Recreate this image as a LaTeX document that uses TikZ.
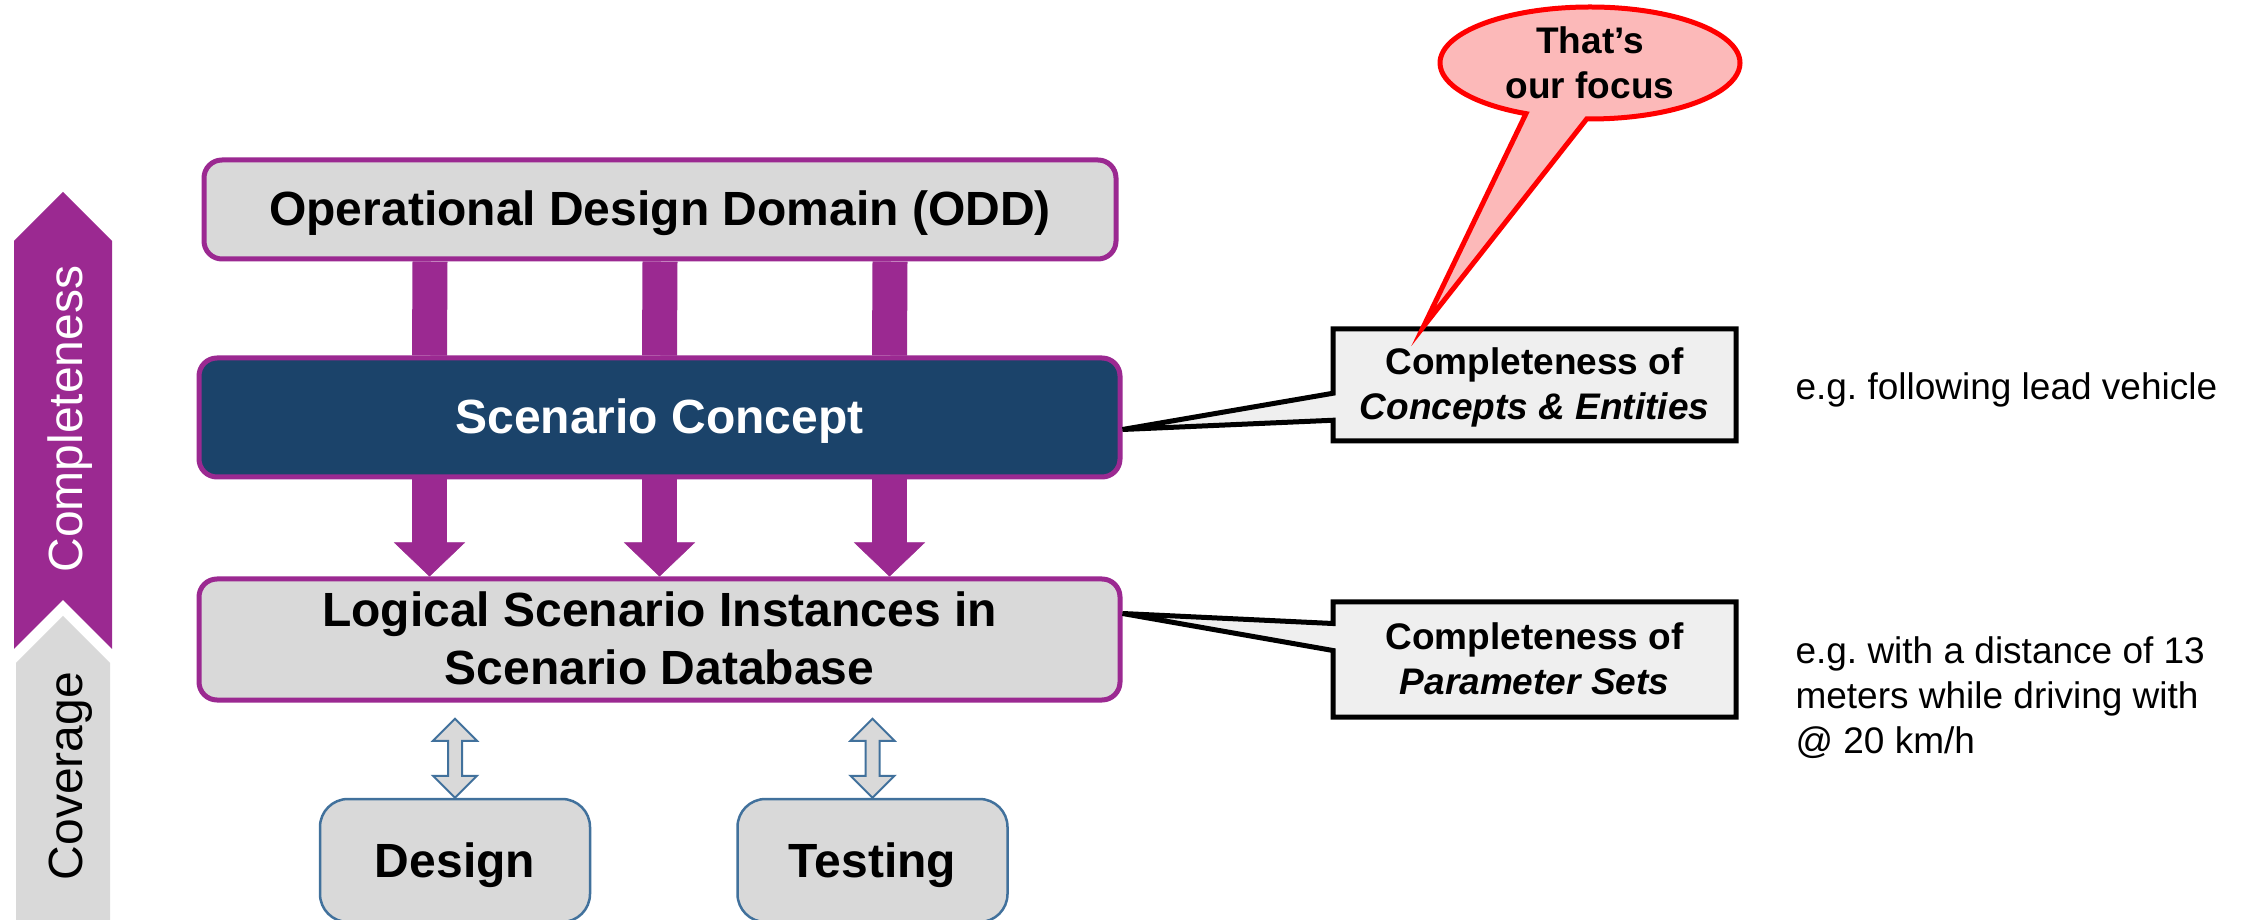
\documentclass[tikz,border=0pt]{standalone}
\usepackage{fontspec}
\setmainfont{Liberation Sans}
\usepackage{tikz}
\usetikzlibrary{positioning,shapes.callouts,arrows.meta}
\definecolor{oddpurple}{RGB}{155,41,145}
\definecolor{conceptblue}{RGB}{27,67,106}
\definecolor{boxgray}{RGB}{217,217,217}
\definecolor{notegray}{RGB}{239,239,239}
\definecolor{focuspink}{RGB}{252,185,185}
\definecolor{toolblue}{RGB}{65,113,156}
\frenchspacing
\tikzset{
    purple-box/.style = {draw=oddpurple, fill=boxgray, line width=5pt, rectangle, rounded corners=18pt, inner sep=4pt, text height=43pt, text depth=10pt, align=center, font=\fontsize{48}{58}\selectfont\bfseries},
    concept-box/.style = {purple-box, fill=conceptblue, text=white},
    tool-box/.style = {draw=toolblue, fill=boxgray, line width=2.5pt, rectangle, rounded corners=28pt, minimum width=270pt, minimum height=123pt, text height=43pt, text depth=10pt, font=\fontsize{48}{58}\selectfont\bfseries},
    flow-bar/.style = {draw=oddpurple, line width=35pt},
    flow-arrow/.style = {flow-bar, -{Triangle[width=71pt, length=34pt, line width=0.5pt]}},
    dbl-arrow/.style = {draw=toolblue, fill=boxgray, line width=2pt, line join=miter},
    note-callout/.style = {rectangle callout, draw=black, fill=notegray, line width=5pt, minimum width=403pt, inner sep=0pt, text height=78pt, text depth=8pt, callout pointer width=27pt, align=center, font=\fontsize{37}{45}\selectfont\bfseries},
    focus-bubble/.style = {ellipse callout, draw=red, fill=focuspink, line width=5pt, minimum width=300pt, minimum height=112pt, inner sep=0pt, callout pointer arc=24, align=center, font=\fontsize{37}{45}\selectfont\bfseries},
    side-label/.style = {rotate=90, anchor=base, font=\fontsize{48}{58}\selectfont},
    example-text/.style = {anchor=base west, align=left, font=\fontsize{37}{45}\selectfont},
}

\begin{document}
\begin{tikzpicture}[x=1pt, y=1pt]
\path[fill=white, use as bounding box] (0,0) rectangle (2246,919);

% completeness / coverage scale
\fill[oddpurple] (14,270) -- (14,678) -- (63,727) -- (112,678) -- (112,270) -- (63,319) -- cycle;
\fill[boxgray] (16,-5) -- (16,256) -- (63,303) -- (110,256) -- (110,-5) -- cycle;
\node[side-label, text=white] (completeness) at (82,500) {Completeness};
\node[side-label] (coverage) at (82,143) {Coverage};

% main chain
\node[purple-box, minimum width=912pt, minimum height=99pt] (odd) at (660,709.5) {Operational Design Domain (ODD)};
\node[concept-box, minimum width=921pt, minimum height=119pt] (sc) at (659.5,501.5) {Scenario Concept};
\node[purple-box, minimum width=921pt, minimum height=121pt, text height=101pt] (logical) at (659.5,279.5) {Logical Scenario Instances in\\Scenario Database};

\foreach \dx in {-230,0,230} {
    \draw[flow-bar] ([xshift=\dx pt]odd.south) -- ([xshift=\dx pt]sc.north);
    \draw[flow-arrow] ([xshift=\dx pt]sc.south) -- ([xshift=\dx pt]logical.north);
}

% design and testing
\node[tool-box] (design) at (455,58.5) {Design};
\node[tool-box] (testing) at (872.5,58.5) {Testing};
\foreach \n in {design,testing}
    \draw[dbl-arrow] (\n.north) -- ++(22,22) -- ++(-15,0) -- ++(0,35) -- ++(15,0) -- ++(-22,22) -- ++(-22,-22) -- ++(15,0) -- ++(0,-35) -- ++(-15,0) -- cycle;

% callouts
\coordinate (concepts-tip) at ([yshift=-12pt]sc.east);
\coordinate (params-tip) at ([yshift=26pt]logical.east);
\node[note-callout, minimum height=112pt, callout absolute pointer={(concepts-tip)}] (concepts) at (1534.5,534) {Completeness of\\\textit{Concepts \& Entities}};
\node[note-callout, minimum height=115pt, callout absolute pointer={(params-tip)}] (params) at (1534.5,259.5) {Completeness of\\\textit{Parameter Sets}};

\coordinate (focus-tip) at ([xshift=93pt]concepts.north west);
\node[focus-bubble, callout absolute pointer={(focus-tip)}] (focus) at (1590,856) {That’s\\our focus};

% examples
\node[example-text] (concepts-ex) at (1792,519) {e.g. following lead vehicle};
\node[example-text] (params-ex) at (1792,166) {e.g. with a distance of 13\\meters while driving with\\@ 20 km/h};
\end{tikzpicture}
\end{document}
